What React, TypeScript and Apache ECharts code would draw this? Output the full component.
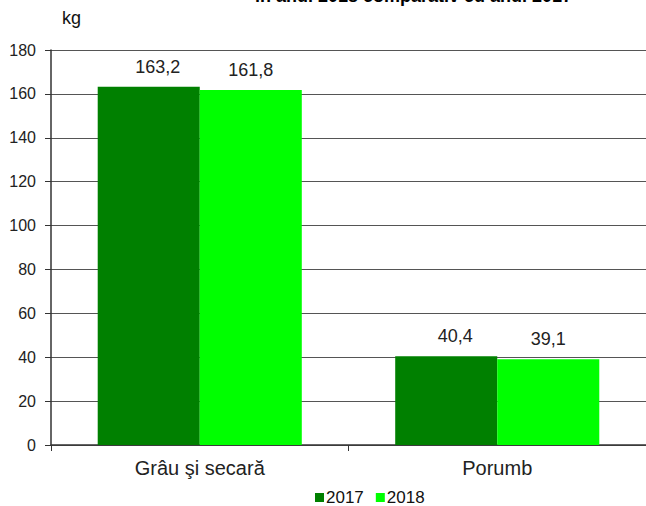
import React, { useEffect, useRef } from "react";
import * as echarts from "echarts";

const categories = ["Grâu şi secară", "Porumb"];
const seriesNames = ["2017", "2018"];
const values2017 = [163.2, 40.4];
const values2018 = [161.8, 39.1];
const colors = ["#008000", "#00FF00"];
const yTicks = { min: 0, max: 180, interval: 20 };
const titleText = "în anul 2018 comparativ cu anul 2017";
const unitText = "kg";

export default function App() {
  const ref = useRef<HTMLDivElement>(null);
  useEffect(() => {
    document.body.style.margin = "0";
    const chart = echarts.init(ref.current!, null, { renderer: "svg" });
    const font = "'Liberation Sans', Arial, sans-serif";
    const fmt = (p: any) => String(p.value).replace(".", ",");
    const labelStyle = (dx: number) => ({
      show: true,
      position: "top",
      fontSize: 18,
      color: "#222",
      formatter: fmt,
      distance: 11,
      offset: [dx, 0],
      fontFamily: font,
    });
    chart.setOption({
      animation: false,
      textStyle: { fontFamily: font },
      graphic: [
        {
          type: "text",
          left: 255,
          top: -13,
          style: { text: titleText, font: "bold 18px " + font, fill: "#000" },
        },
        {
          type: "text",
          left: 62,
          top: 9,
          style: { text: unitText, font: "18px " + font, fill: "#111" },
        },
      ],
      legend: {
        top: 484,
        left: 310,
        itemWidth: 9,
        itemHeight: 9,
        itemGap: 12,
        icon: "rect",
        textStyle: { fontSize: 17, color: "#111", fontFamily: font, padding: [0, 0, 0, -3] },
        data: seriesNames,
      },
      grid: { left: 51, top: 50, width: 600, bottom: 61, containLabel: false },
      xAxis: {
        type: "category",
        data: categories,
        axisLine: { lineStyle: { color: "#333", width: 1.5 } },
        axisTick: { show: true, length: 6, lineStyle: { color: "#333" } },
        axisLabel: { fontSize: 20, color: "#222", margin: 13, fontFamily: font },
      },
      yAxis: {
        type: "value",
        min: yTicks.min,
        max: yTicks.max,
        interval: yTicks.interval,
        axisLine: { show: true, lineStyle: { color: "#333", width: 1.5 } },
        axisTick: { show: true, length: 6, lineStyle: { color: "#333" } },
        axisLabel: { fontSize: 16, color: "#222", margin: 15, fontFamily: font },
        splitLine: { lineStyle: { color: "#555", width: 1 } },
      },
      series: [
        {
          name: seriesNames[0],
          type: "bar",
          data: values2017,
          itemStyle: { color: colors[0] },
          barWidth: "34.3%",
          barGap: "0%",
          label: labelStyle(9),
        },
        {
          name: seriesNames[1],
          type: "bar",
          data: values2018,
          itemStyle: { color: colors[1] },
          barWidth: "34.3%",
          barGap: "0%",
          label: labelStyle(0),
        },
      ],
    });
    return () => chart.dispose();
  }, []);
  return <div ref={ref} style={{ width: 646, height: 506 }} />;
}
